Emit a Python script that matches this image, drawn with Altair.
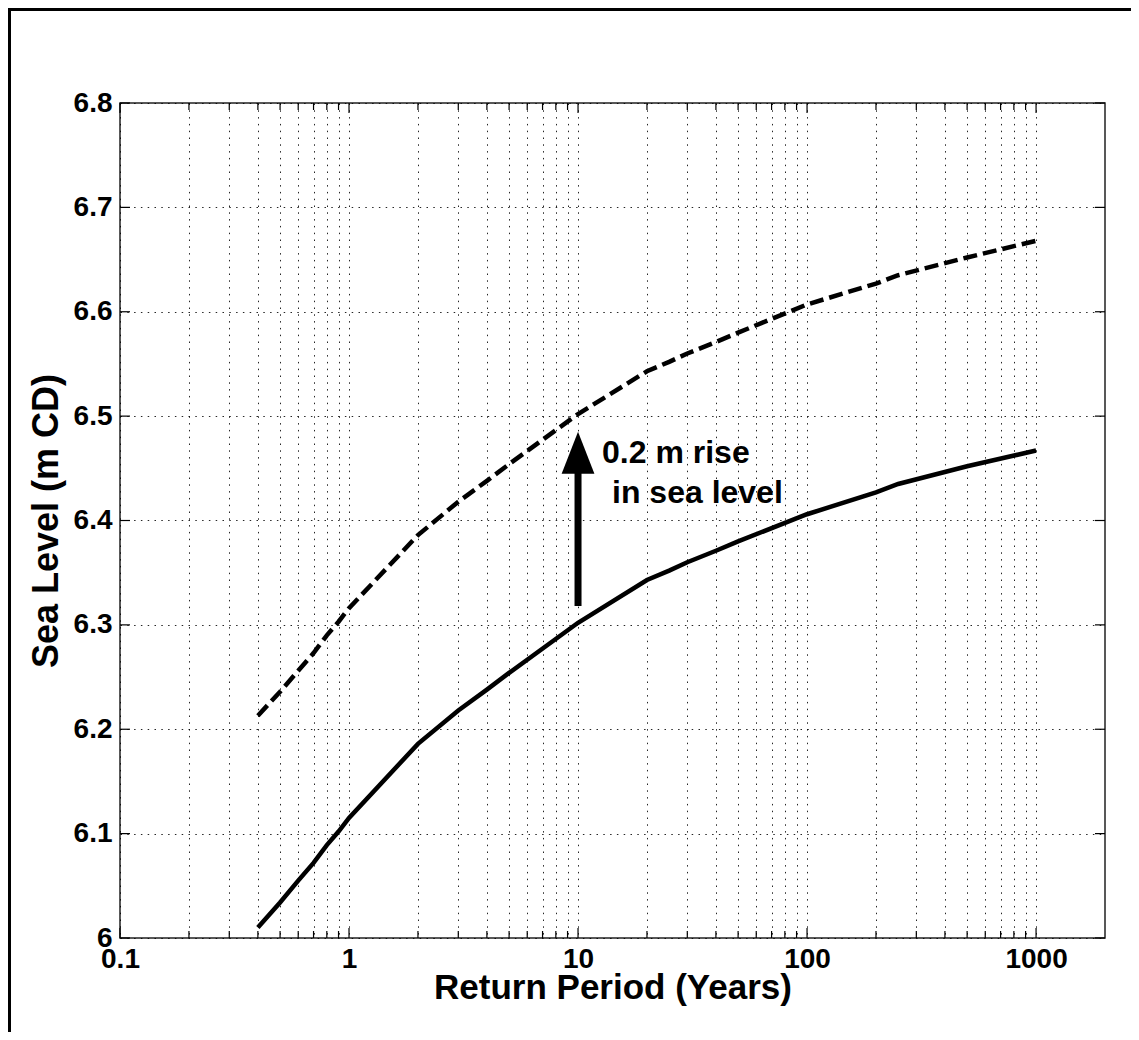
import altair as alt
import pandas as pd

# ---- data ----
return_period = [0.4, 0.5, 0.6, 0.7, 0.8, 0.9, 1, 2, 3, 4, 5, 10, 20, 25, 30, 40, 50, 100, 200, 250, 500, 1000]
sea_level_now = [6.010, 6.034, 6.055, 6.072, 6.089, 6.102, 6.115, 6.186, 6.218, 6.238, 6.254, 6.302,
                 6.343, 6.352, 6.360, 6.371, 6.380, 6.406, 6.427, 6.435, 6.452, 6.467]
sea_level_rise = [6.213, 6.236, 6.256, 6.273, 6.290, 6.303, 6.316, 6.386, 6.418, 6.438, 6.454, 6.502,
                  6.543, 6.552, 6.560, 6.571, 6.580, 6.607, 6.627, 6.635, 6.652, 6.668]

x_major = [0.1, 1, 10, 100, 1000]
x_minor = [m * d for d in [0.1, 1, 10, 100] for m in range(2, 10)]
x_all = sorted(x_major + x_minor)
y_ticks = [6.0, 6.1, 6.2, 6.3, 6.4, 6.5, 6.6, 6.7, 6.8]

arrow_x = [10]
arrow_from = [6.318]
arrow_head_base = [6.452]
arrow_tip = [6.485]
note_line1 = "0.2 m rise"
note_line2 = "in sea level"
note_y1 = [6.455]
note_y2 = [6.417]

W, H = 985, 835
FONT = "Liberation Sans"

xscale = alt.Scale(type="log", domain=[0.1, 2000], nice=False)
yscale = alt.Scale(domain=[6.0, 6.8], nice=False, zero=False)

df_now = pd.DataFrame({"T": return_period, "L": sea_level_now})
df_rise = pd.DataFrame({"T": return_period, "L": sea_level_rise})

decade_labels = "indexof(['0.1','1','10','100','1000'], format(datum.value, '~g')) >= 0 ? format(datum.value, '~g') : ''"

x_axis = alt.Axis(values=x_all, grid=True, gridDash=[1.5, 5.3], gridColor="#000000", gridWidth=1,
                  gridOpacity=0.85, ticks=False, domain=False, labelExpr=decade_labels,
                  labelFont=FONT, labelFontWeight="bold", labelFontSize=28, labelColor="black",
                  labelPadding=7, labelOverlap=False, labelFlush=False, labelBound=False,
                  title="Return Period (Years)", titleFont=FONT, titleFontWeight="bold",
                  titleFontSize=35, titleColor="black", titleBaseline="alphabetic",
                  titleY=60, titleX=W / 2)
y_axis = alt.Axis(values=y_ticks, grid=True, gridDash=[1.5, 5.3], gridColor="#000000", gridWidth=1,
                  gridOpacity=0.85, ticks=False, domain=False, format=".1~f",
                  labelFont=FONT, labelFontWeight="bold", labelFontSize=28, labelColor="black",
                  labelPadding=8, labelOverlap=False, labelFlush=False, labelBound=False,
                  title="Sea Level (m CD)", titleFont=FONT, titleFontWeight="bold",
                  titleFontSize=36, titleColor="black", titleBaseline="alphabetic",
                  titleX=-63, titleY=H / 2)

solid = alt.Chart(df_now).mark_line(color="black", strokeWidth=4.5).encode(
    x=alt.X("T:Q", scale=xscale, axis=x_axis),
    y=alt.Y("L:Q", scale=yscale, axis=y_axis),
)
dashed = alt.Chart(df_rise).mark_line(color="black", strokeWidth=4.5, strokeDash=[14, 6]).encode(
    x=alt.X("T:Q", scale=xscale),
    y=alt.Y("L:Q", scale=yscale),
)

df_arrow = pd.DataFrame({"T": arrow_x, "y0": arrow_from, "y1": arrow_head_base, "tip": arrow_tip})
shaft = alt.Chart(df_arrow).mark_rule(color="black", strokeWidth=7).encode(
    x=alt.X("T:Q", scale=xscale), y=alt.Y("y0:Q", scale=yscale), y2="y1:Q")
head = alt.Chart(df_arrow).mark_point(
    shape="M0,0L0.39,1L-0.39,1Z", size=7056, filled=True, color="black", opacity=1, strokeWidth=0
).encode(x=alt.X("T:Q", scale=xscale), y=alt.Y("tip:Q", scale=yscale))

df_n1 = pd.DataFrame({"T": arrow_x, "y": note_y1, "t": [note_line1]})
df_n2 = pd.DataFrame({"T": arrow_x, "y": note_y2, "t": [note_line2]})
text_kw = dict(font=FONT, fontWeight="bold", fontSize=32, color="black", align="left", baseline="alphabetic")
note1 = alt.Chart(df_n1).mark_text(dx=24, **text_kw).encode(
    x=alt.X("T:Q", scale=xscale), y=alt.Y("y:Q", scale=yscale), text="t:N")
note2 = alt.Chart(df_n2).mark_text(dx=34, **text_kw).encode(
    x=alt.X("T:Q", scale=xscale), y=alt.Y("y:Q", scale=yscale), text="t:N")

# inward ticks on all four sides
df_xmaj = pd.DataFrame({"T": x_major})
df_xmin = pd.DataFrame({"T": x_minor})
df_y = pd.DataFrame({"L": y_ticks})
tick_kw = dict(color="black", strokeWidth=1.2)
t_bot_maj = alt.Chart(df_xmaj).mark_rule(**tick_kw).encode(
    x=alt.X("T:Q", scale=xscale), y=alt.value(H), y2=alt.value(H - 10))
t_top_maj = alt.Chart(df_xmaj).mark_rule(**tick_kw).encode(
    x=alt.X("T:Q", scale=xscale), y=alt.value(0), y2=alt.value(10))
t_bot_min = alt.Chart(df_xmin).mark_rule(**tick_kw).encode(
    x=alt.X("T:Q", scale=xscale), y=alt.value(H), y2=alt.value(H - 7))
t_top_min = alt.Chart(df_xmin).mark_rule(**tick_kw).encode(
    x=alt.X("T:Q", scale=xscale), y=alt.value(0), y2=alt.value(7))
t_left = alt.Chart(df_y).mark_rule(**tick_kw).encode(
    y=alt.Y("L:Q", scale=yscale), x=alt.value(0), x2=alt.value(10))
t_right = alt.Chart(df_y).mark_rule(**tick_kw).encode(
    y=alt.Y("L:Q", scale=yscale), x=alt.value(W), x2=alt.value(W - 10))

# figure frame (left and top edges)
frame_left = alt.Chart(df_y).mark_rule(color="black", strokeWidth=3).encode(
    x=alt.value(-110.5), y=alt.value(-95), y2=alt.value(929))
frame_top = alt.Chart(df_y).mark_rule(color="black", strokeWidth=3).encode(
    x=alt.value(-112), x2=alt.value(1011), y=alt.value(-93.5))

chart = alt.layer(
    solid, dashed, shaft, head, note1, note2,
    t_bot_maj, t_top_maj, t_bot_min, t_top_min, t_left, t_right,
    frame_left, frame_top,
).properties(
    width=W, height=H,
    autosize=alt.AutoSizeParams(type="none"),
    padding={"left": 112, "top": 95, "right": 26, "bottom": 94},
    background="white",
).configure_view(stroke="#222222", strokeWidth=1.5)

chart.save("out.html", embed_options={"renderer": "svg", "actions": False})
